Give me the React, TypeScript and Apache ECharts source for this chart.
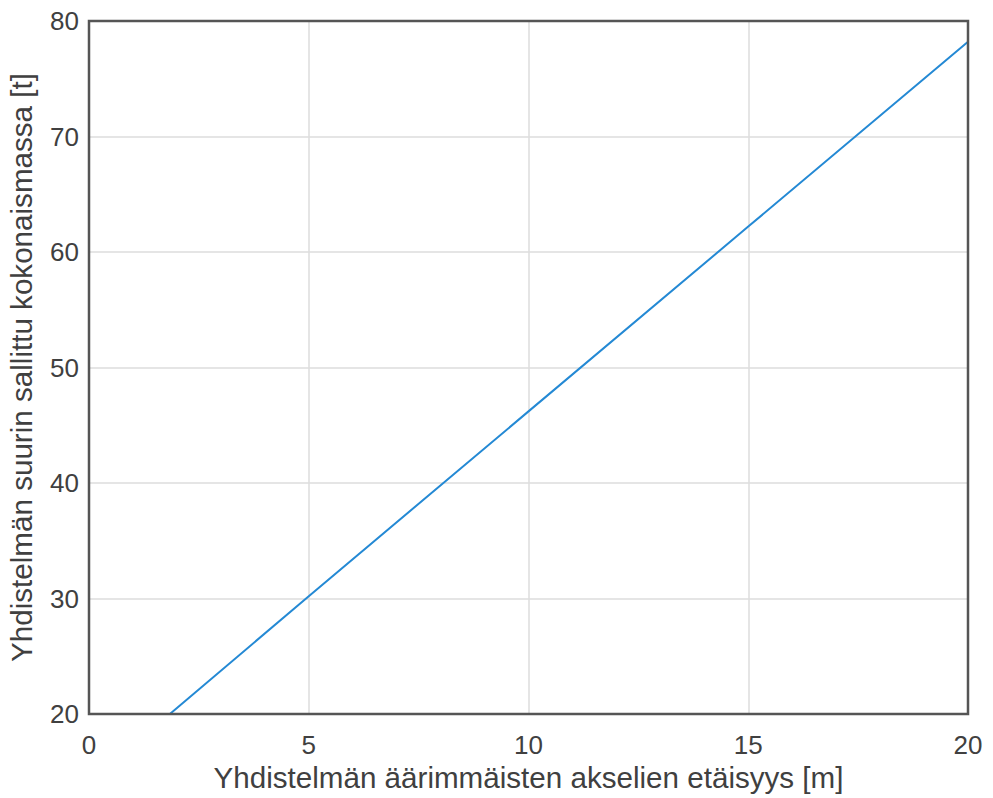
import React, { useEffect, useRef } from "react";
import * as echarts from "echarts";

const xValues = [1.84, 5, 10, 15, 20];
const yValues = [20, 30.2, 46.2, 62.2, 78.2];
const xTicks = [0, 5, 10, 15, 20];
const yTicks = [20, 30, 40, 50, 60, 70, 80];
const xTitle = "Yhdistelmän äärimmäisten akselien etäisyys [m]";
const yTitle = "Yhdistelmän suurin sallittu kokonaismassa [t]";

export default function App() {
  const ref = useRef<HTMLDivElement>(null);
  useEffect(() => {
    if (!ref.current) return;
    const chart = echarts.init(ref.current, undefined, { renderer: "svg" });
    const font = "'Liberation Sans', Arial, sans-serif";
    chart.setOption({
      animation: false,
      backgroundColor: "#ffffff",
      grid: { left: 89, top: 21, right: 25, bottom: 84, containLabel: false, outerBoundsMode: "none" },
      xAxis: {
        type: "value",
        min: xTicks[0],
        max: xTicks[xTicks.length - 1],
        interval: 5,
        name: xTitle,
        nameLocation: "middle",
        nameGap: 48,
        nameTextStyle: { fontFamily: font, fontSize: 29.6, color: "#404040" },
        axisLine: { show: false },
        axisTick: { show: false },
        axisLabel: { fontFamily: font, fontSize: 26, color: "#404040", margin: 18 },
        splitLine: { show: true, lineStyle: { color: "#dcdcdc", width: 1.5 } },
      },
      yAxis: {
        type: "value",
        min: yTicks[0],
        max: yTicks[yTicks.length - 1],
        interval: 10,
        name: yTitle,
        nameLocation: "middle",
        nameGap: 53,
        nameTextStyle: { fontFamily: font, fontSize: 29.6, color: "#404040" },
        axisLine: { show: false },
        axisTick: { show: false },
        axisLabel: { fontFamily: font, fontSize: 26, color: "#404040", margin: 10 },
        splitLine: { show: true, lineStyle: { color: "#dcdcdc", width: 1.5 } },
      },
      series: [
        {
          type: "line",
          data: xValues.map((x, i) => [x, yValues[i]]),
          showSymbol: false,
          symbol: "none",
          lineStyle: { color: "#2489d4", width: 2 },
          z: 3,
        },
      ],
      graphic: [
        {
          type: "rect",
          shape: { x: 89, y: 21, width: 879, height: 693 },
          style: { fill: "none", stroke: "#555555", lineWidth: 2.5 },
          z: 10,
          silent: true,
        },
      ],
    });
    return () => chart.dispose();
  }, []);
  return <div ref={ref} style={{ width: 993, height: 798, position: "absolute", left: 0, top: 0 }} />;
}
